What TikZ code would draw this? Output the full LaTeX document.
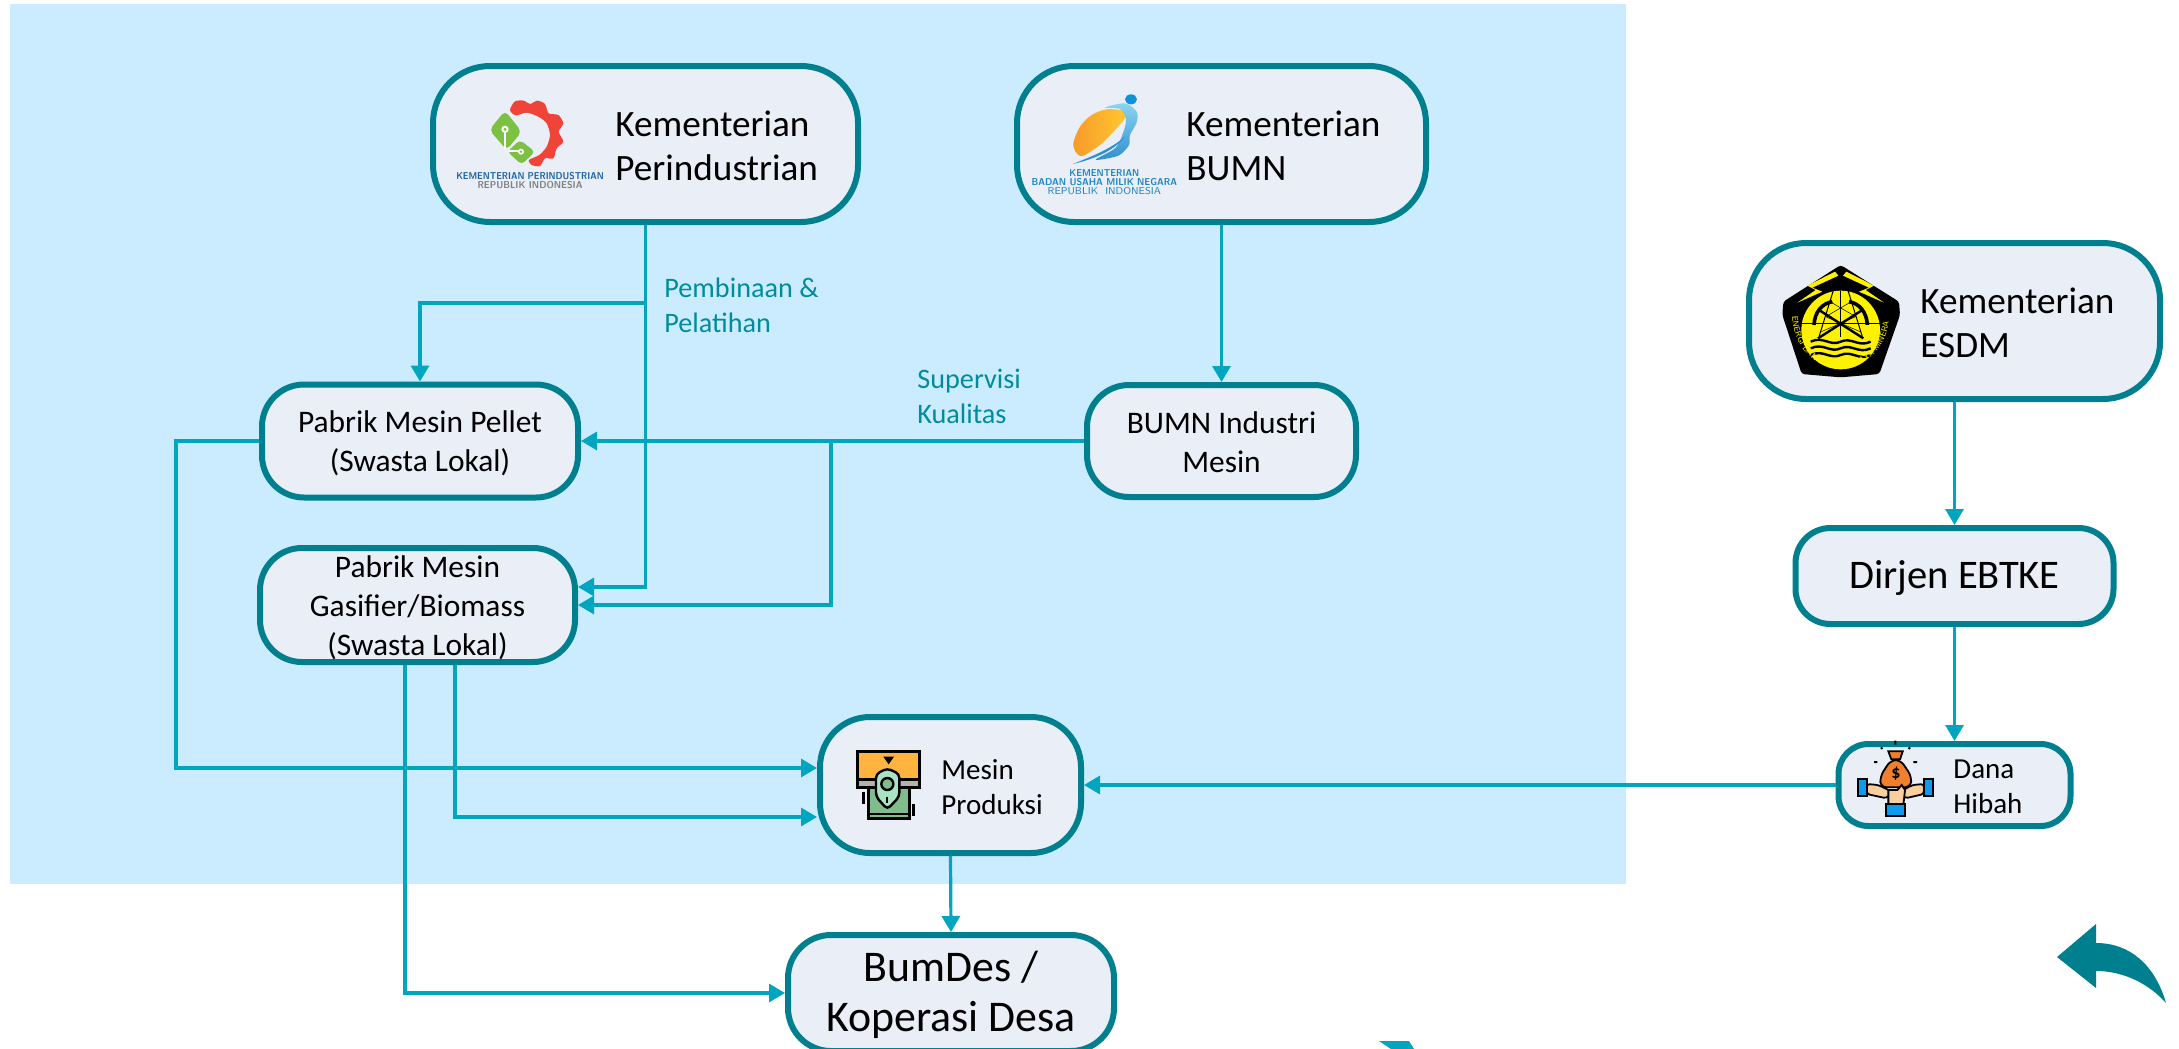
\documentclass[tikz,border=0pt]{standalone}
\usepackage{fontspec}
\setmainfont{Carlito}
\usepackage{tikz}
\usetikzlibrary{arrows.meta,decorations.text}

\definecolor{panelblue}{HTML}{CBEBFF}
\definecolor{boxfill}{HTML}{E9EEF7}
\definecolor{boxline}{HTML}{00808F}
\definecolor{flowline}{HTML}{00A5C0}
\definecolor{notetext}{HTML}{008C9E}
\definecolor{logoblue}{HTML}{1F62A8}
\definecolor{logosky}{HTML}{1F86C8}
\definecolor{gearred}{HTML}{F04438}
\definecolor{leafgreen}{HTML}{7DC143}
\definecolor{sunorange}{HTML}{F79A2B}
\definecolor{sunyellow}{HTML}{FFC82E}
\definecolor{swishlight}{HTML}{8ED4F0}
\definecolor{swishdark}{HTML}{2E8FD0}
\definecolor{slotorange}{HTML}{FFB440}
\definecolor{notegreen}{HTML}{80BC8C}
\definecolor{notepale}{HTML}{A8E4C4}
\definecolor{bagorange}{HTML}{F07F2E}
\definecolor{skincol}{HTML}{F9CFA0}
\definecolor{cuffcol}{HTML}{0B9CF0}

\newcommand{\fontlarge}{\fontsize{18.6}{22}\selectfont}
\newcommand{\fontdirjen}{\fontsize{20.3}{22}\selectfont}
\newcommand{\fontmain}{\fontsize{15.7}{19.5}\selectfont}
\newcommand{\fontsmall}{\fontsize{14.5}{17.5}\selectfont}
\newcommand{\fontnote}{\fontsize{14.1}{17.5}\selectfont}
\newcommand{\fonthuge}{\fontsize{21.9}{25}\selectfont}
\newcommand{\fontlogo}{\fontsize{5}{5}\selectfont\sffamily}

\tikzset{
    rbox/.style n args={3}{draw=boxline,fill=boxfill,line width=3pt,inner sep=0pt,
        minimum width=#1*.5pt,minimum height=#2*.5pt,rounded corners=#3*.5pt},
    flow/.style={draw=flowline,line width=1.6pt,-{Triangle[length=8pt,width=9pt]}},
    boxtext/.style={anchor=west,align=left,inner sep=0pt},
    midtext/.style={align=center,inner sep=0pt},
    note/.style={anchor=west,align=left,inner sep=0pt,notetext,font=\fontnote},
    logotext/.style={inner sep=0pt,font=\fontlogo}
}

\begin{document}
\begin{tikzpicture}[x=.5pt,y=-.5pt]
    \path [use as bounding box,clip] (0,0) rectangle (2179,1049);
    \fill [panelblue] (10,4) rectangle (1626,884);

    % boxes
    \node (perin)  [rbox={425}{156}{57}] at (645.5,144)  {};
    \node (bumn)   [rbox={409}{156}{57}] at (1221.5,144) {};
    \node (esdm)   [rbox={411}{156}{57}] at (1954.5,321) {};
    \node (pellet) [rbox={316}{113}{42}] at (420,441)    {};
    \node (gasif)  [rbox={315}{114}{42}] at (417.5,605)  {};
    \node (indus)  [rbox={269}{112}{42}] at (1221.5,441) {};
    \node (dirjen) [rbox={318}{96}{35}]  at (1954.5,576) {};
    \node (mesin)  [rbox={261}{136}{50}] at (950.5,785)  {};
    \node (dana)   [rbox={232}{82}{30}]  at (1954.5,785) {};
    \node (bumdes) [rbox={326}{116}{43}] at (951,993)    {};

    % texts of the boxes
    \node (perintext)  [boxtext,font=\fontlarge] at (615,146)  {Kementerian\\Perindustrian};
    \node (bumntext)   [boxtext,font=\fontlarge] at (1186,146) {Kementerian\\BUMN};
    \node (esdmtext)   [boxtext,font=\fontlarge] at (1920,323) {Kementerian\\ESDM};
    \node (mesintext)  [boxtext,font=\fontsmall] at (941,787)  {Mesin\\Produksi};
    \node (danatext)   [boxtext,font=\fontsmall] at (1953,787) {Dana\\Hibah};
    \node (pellettext) [midtext,font=\fontmain]  at (420,443)   {Pabrik Mesin Pellet\\(Swasta Lokal)};
    \node (gasiftext)  [midtext,font=\fontmain]  at (417.5,608) {Pabrik Mesin\\Gasifier/Biomass\\(Swasta Lokal)};
    \node (industext)  [midtext,font=\fontmain]  at (1221.5,442) {BUMN Industri\\Mesin};
    \node (dirjentext) [midtext,font=\fontdirjen] at (1954.5,578) {Dirjen EBTKE};
    \node (bumdestext) [midtext,font=\fonthuge]  at (951,995)   {BumDes /\\Koperasi Desa};
    \node (noteone)    at (664,305) [note] {Pembinaan \&\\Pelatihan};
    \node (notetwo)    at (917,396) [note] {Supervisi\\Kualitas};

    % connectors
    \coordinate (perinfork) at (perin.south |- 0,303);
    \coordinate (indusfork) at (831,441);
    \coordinate (pelletout) at (176,441);
    \draw [flow] (perin.south) |- ([yshift=9pt]gasif.east);
    \draw [flow] (perinfork) -| (pellet.north);
    \draw [flow] (bumn.south) -- (indus.north);
    \draw [flow] (indus.west) -- (pellet.east);
    \draw [flow] (indusfork) |- (gasif.east);
    \draw [flow] (pellet.west) -- (pelletout) |- ([yshift=8.5pt]mesin.west);
    \draw [flow] ([xshift=18.75pt]gasif.south) |- ([yshift=-16pt]mesin.west);
    \draw [flow] ([xshift=-6.25pt]gasif.south) |- (bumdes.west);
    \draw [flow] (mesin.south) -- (bumdes.north);
    \draw [flow] (dana.west) -- (mesin.east);
    \draw [flow] (esdm.south) -- (dirjen.north);
    \draw [flow] (dirjen.south) -- (dana.north);

    % return arrow and the cut-off mark at the foot
    \fill [boxline] (2057,957) -- (2096,924) -- (2096,943) .. controls (2130,943) and (2155,965) .. (2166,1003)
        .. controls (2150,985) and (2125,971) .. (2096,971) -- (2096,988) -- cycle;
    \fill [flowline] (1379,1041) -- (1409,1041) -- (1414,1049) -- (1391,1049) -- cycle;

    % logo of the industry ministry
    \begin{scope}[shift={(450,90)},scale=1/3]
        \fill [gearred] plot [smooth cycle,tension=.45] coordinates {(180,60) (195,34) (222,32) (240,42) (262,32) (285,42) (296,70)
            (325,75) (340,100) (326,125) (340,155) (320,175) (310,205) (285,205) (270,228) (245,225) (237,210)
            (268,195) (290,170) (300,135) (290,100) (265,80) (230,68) (197,76)};
        \fill [leafgreen,rounded corners=2.5pt] (165,62) -- (215,125) -- (170,180) -- (118,120) -- cycle;
        \fill [leafgreen,rounded corners=2pt] (210,150) -- (255,185) -- (215,224) -- (172,185) -- cycle;
        \draw [white,line width=.8pt] (165,125) -- (165,176) (176,183) -- (208,183);
        \fill [white] (165,118) circle (11) (213,185) circle (9);
        \fill [leafgreen] (165,118) circle (5) (213,185) circle (4);
        \node (perinlogoa) [logotext,logoblue,xscale=.88] at (240,257) {\textbf{KEMENTERIAN PERINDUSTRIAN}};
        \node (perinlogob) [logotext,gray,xscale=.92] at (240,286) {\textbf{REPUBLIK INDONESIA}};
    \end{scope}

    % logo of the state enterprise ministry
    \begin{scope}[shift={(1025,85)},scale=1/3]
        \fill [cyan!80!blue] (318,43) ellipse (18 and 15);
        \shade [left color=sunorange,right color=sunyellow] plot [smooth cycle,tension=.5] coordinates
            {(145,175) (165,125) (200,90) (245,73) (298,78) (300,100) (270,135) (225,180) (175,212) (155,205)};
        \shade [top color=swishlight,bottom color=swishdark] plot [smooth cycle,tension=.5] coordinates
            {(240,68) (300,55) (335,80) (335,112) (315,150) (312,180) (280,212) (212,224) (270,190) (292,150) (303,105) (285,72)};
        \fill [swishdark] (143,237) .. controls (200,215) and (260,190) .. (300,155) .. controls (270,195) and (210,222) .. cycle;
        \node (bumnlogoa) [logotext,logosky,xscale=.9] at (238,264) {\textbf{KEMENTERIAN}};
        \node (bumnlogob) [logotext,logosky,xscale=.92] at (238,291) {\textbf{BADAN USAHA MILIK NEGARA}};
        \node (bumnlogoc) [logotext,logosky,xscale=1] at (238,319) {REPUBLIK\ \ INDONESIA};
    \end{scope}

    % logo of the energy ministry
    \begin{scope}[shift={(1720,220)},scale=1/3]
        \fill [black,rounded corners=1.5pt] (362,135) -- (537,245) -- (540,285) -- (478,462) -- (362,472) -- (245,462) -- (187,285) -- (190,245) -- cycle;
        \fill [yellow] (362,330) circle (118);
        \foreach \sgn in {1,-1} {
            \fill [yellow] ({362+\sgn*(-17)},155) -- ({362+\sgn*(-100)},197) -- ({362+\sgn*(-75)},210) -- ({362+\sgn*(-130)},248)
                -- ({362+\sgn*(-55)},215) -- ({362+\sgn*(-85)},203) -- ({362+\sgn*(-7)},167) -- cycle;
            \draw [line width=.5pt] ({362+\sgn*20},205) -- ({362+\sgn*65},350);
            \draw [line width=.25pt] ({362+\sgn*32},245) -- ({362-\sgn*45},290) ({362+\sgn*45},290) -- ({362-\sgn*58},335);
            \draw [line width=1.2pt] ({362+\sgn*(-65)},270) -- ({362+\sgn*68},355);
            \draw [line width=1.8pt] ({362+\sgn*(-80)},315) .. controls ({362+\sgn*(-78)},275) and ({362+\sgn*(-55)},250) .. ({362+\sgn*(-25)},245);
        }
        \draw [line width=.25pt] (244,310) -- (480,310) (362,212) -- (362,350);
        \draw [line width=.8pt] (340,205) -- (385,205);
        \foreach \wavey in {365,385,405} {
            \draw [line width=1.2pt] (272,\wavey) .. controls (310,{\wavey-18}) and (330,{\wavey+15}) .. (362,\wavey)
                .. controls (395,{\wavey-15}) and (415,{\wavey+18}) .. (452,\wavey);
        }
        \path [decorate,decoration={text along path,text align=center,
            text={|\fontsize{4.1}{5}\selectfont\sffamily\color{yellow}|ENERGI DAN SUMBER DAYA MINERAL}}]
            (218,305) .. controls (240,490) and (484,490) .. (506,305);
    \end{scope}

    % icon of the machine
    \begin{scope}[shift={(800,700)},scale=1/3]
        \draw [line width=1.2pt,fill=notegreen] (205,245) rectangle (328,356);
        \draw [line width=.8pt] (205,342) -- (328,342);
        \draw [line width=1.2pt,fill=slotorange] (172,155) rectangle (358,240);
        \draw [line width=1.2pt,fill=gray!60] (172,238) rectangle (358,262);
        \draw [line width=1.2pt,fill=notepale,rounded corners=2pt] (262,205) -- (298,222) -- (298,290) -- (262,328) -- (228,290) -- (228,222) -- cycle;
        \draw [line width=1.2pt,fill=notegreen] (262,252) circle (18);
        \draw [line width=1pt] (262,290) -- (262,308);
        \fill (250,170) -- (282,170) -- (266,193) -- cycle;
        \draw [line width=1.2pt,dash pattern=on 6pt off 2pt] (190,275) -- (190,322);
        \draw [line width=1.2pt,dash pattern=on 6pt off 2pt] (340,312) -- (340,358);
    \end{scope}

    % icon of the grant money
    \begin{scope}[shift={(1820,730)},scale=1/3]
        \draw [line width=.9pt,fill=bagorange,rounded corners=3pt] (212,90) -- (242,90) -- (275,140) -- (272,172) -- (182,172) -- (180,140) -- cycle;
        \draw [line width=.9pt,fill=bagorange] (205,64) -- (248,64) -- (240,88) -- (214,88) -- cycle;
        \node (danamark) [inner sep=0pt,font=\fontsize{9}{9}\selectfont\bfseries] at (228,130) {\$};
        \draw [line width=.9pt,fill=skincol,rounded corners=1.5pt] (140,162) -- (175,165) -- (215,185) -- (200,205) -- (140,192) -- cycle;
        \draw [line width=.9pt,fill=skincol,rounded corners=1.5pt] (312,162) -- (277,165) -- (240,185) -- (255,205) -- (312,192) -- cycle;
        \draw [line width=.9pt,fill=skincol] (205,180) -- (232,180) -- (245,165) -- (255,180) -- (250,225) -- (205,225) -- cycle;
        \draw [line width=.9pt,fill=cuffcol] (115,148) rectangle (140,197);
        \draw [line width=.9pt,fill=cuffcol] (312,148) rectangle (338,197);
        \draw [line width=.9pt,fill=cuffcol] (198,222) rectangle (256,257);
        \draw [line width=1pt] (226,32) -- (226,44) (183,52) -- (187,57) (270,52) -- (266,57) (162,96) -- (172,96) (280,96) -- (291,96);
    \end{scope}
\end{tikzpicture}
\end{document}
